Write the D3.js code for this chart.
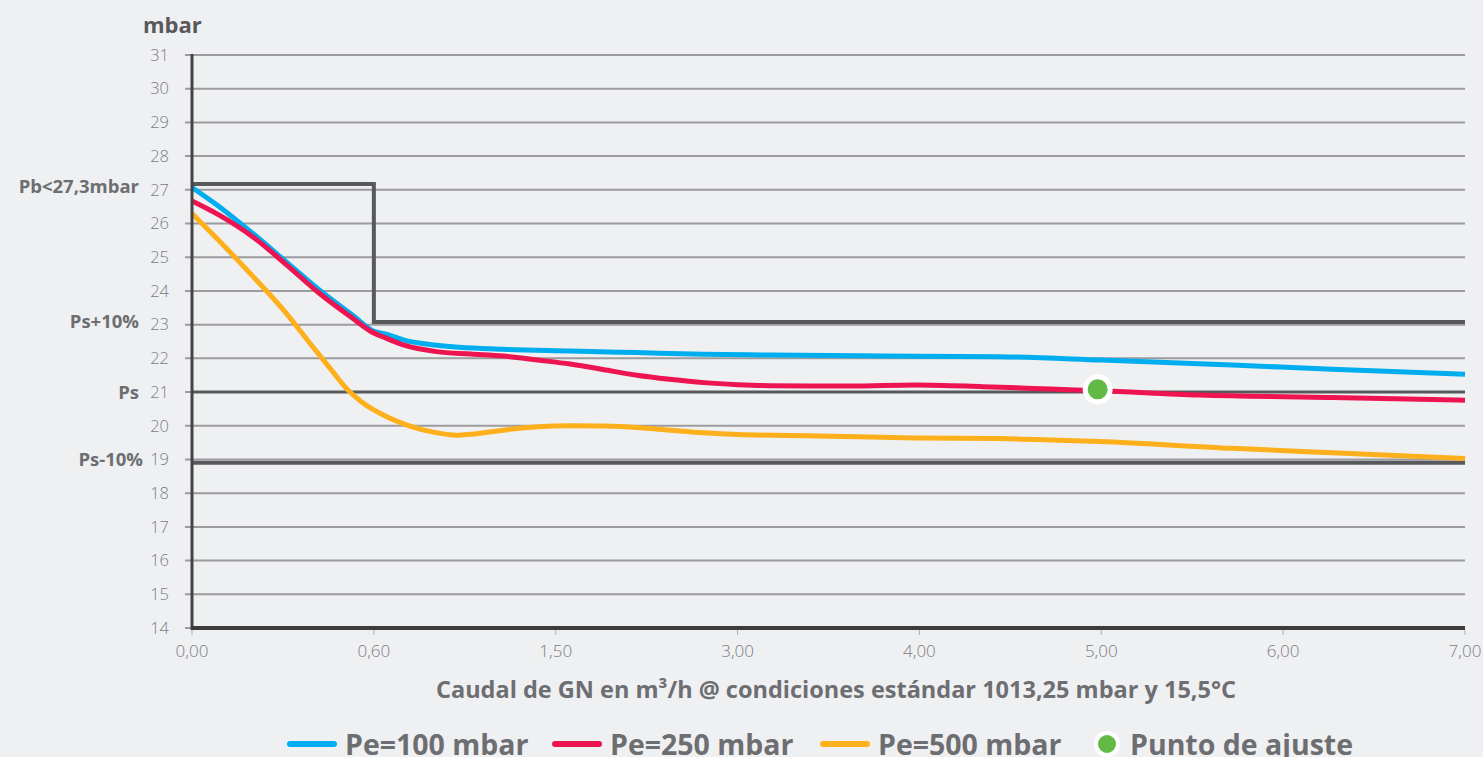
<!DOCTYPE html>
<html><head><meta charset="utf-8">
<script src="https://cdn.jsdelivr.net/npm/d3@7"></script>
<style>
html,body{margin:0;padding:0;background:#eff0f2;}
svg{display:block;font-family:"Open Sans","Noto Sans",sans-serif;}
</style></head>
<body><svg id="c" width="1483" height="757"></svg>
<script>
// ---- data ----
const xTickValues = [0, 0.6, 1.5, 3, 4, 5, 6, 7];
const xTickLabels = ["0,00","0,60","1,50","3,00","4,00","5,00","6,00","7,00"];
const yTickValues = d3.range(14, 32);
const seriesNames = ["Pe=100 mbar","Pe=250 mbar","Pe=500 mbar"];
const seriesColors = ["#00aeef","#ee1452","#fdb01c"];

const pe100 = [[0,27.07],[0.09,26.5],[0.2,25.71],[0.31,24.87],[0.42,24.03],[0.53,23.28],[0.6,22.8],[0.66,22.72],[0.75,22.54],[0.91,22.39],[1.24,22.27],[1.62,22.22],[2.17,22.17],[2.72,22.12],[3.18,22.1],[3.8,22.07],[4.44,22.05],[5.0,21.95],[5.72,21.8],[6.27,21.68],[7.0,21.53]];
const pe250 = [[0,26.67],[0.09,26.25],[0.2,25.61],[0.31,24.79],[0.42,23.93],[0.53,23.19],[0.6,22.75],[0.66,22.6],[0.75,22.39],[0.91,22.2],[1.08,22.13],[1.24,22.07],[1.41,21.95],[1.62,21.83],[1.89,21.67],[2.17,21.5],[2.44,21.38],[2.72,21.28],[3.0,21.22],[3.18,21.19],[3.62,21.18],[3.98,21.21],[4.35,21.16],[4.72,21.09],[4.99,21.04],[5.54,20.91],[6.27,20.84],[7.0,20.76]];
const pe500 = [[0,26.3],[0.087,25.51],[0.197,24.47],[0.307,23.38],[0.389,22.45],[0.455,21.71],[0.511,21.09],[0.561,20.7],[0.63,20.37],[0.779,19.99],[0.893,19.81],[1.011,19.72],[1.08,19.75],[1.24,19.87],[1.41,19.97],[1.62,20.0],[1.89,19.99],[2.17,19.95],[2.44,19.87],[2.72,19.79],[3.0,19.74],[3.44,19.7],[3.98,19.64],[4.44,19.62],[4.72,19.58],[4.99,19.53],[5.72,19.33],[6.27,19.2],[7.0,19.03]];
const seriesData = [pe100, pe250, pe500];

const adjustPoint = [4.98, 21.08];
const limitStep = [[0,27.17],[0.6,27.17],[0.6,23.08],[7,23.08]];
const psValue = 21;
const psMinusValue = 18.9;
const refLabels = ["Pb<27,3mbar","Ps+10%","Ps","Ps-10%"];
const refLabelValues = [27.1, 23.1, 21, 19];

const yTitle = "mbar";
const xTitle = "Caudal de GN en m³/h @ condiciones estándar 1013,25 mbar y 15,5°C";
const dotLegend = "Punto de ajuste";

// ---- scales ----
const svg = d3.select("#c");
const x0 = 192, x1 = 1465;
const x = d3.scaleLinear().domain(xTickValues)
  .range(xTickValues.map((d,i)=> x0 + i*(x1-x0)/(xTickValues.length-1)));
const y = d3.scaleLinear().domain([14,31]).range([628,55]);

const textCol = "#6d6e71";
const tickCol = "#7b7c7f";

// gridlines
svg.append("g").selectAll("line").data(yTickValues).join("line")
  .attr("x1", x0-7).attr("x2", x1)
  .attr("y1", d=>y(d)).attr("y2", d=>y(d))
  .attr("stroke", "#9c9c9e").attr("stroke-width", 2);

// y tick labels
svg.append("g").selectAll("text").data(yTickValues).join("text")
  .attr("x", 169).attr("y", d=>y(d)).attr("dy","0.35em")
  .attr("text-anchor","end").attr("font-size",16.5).attr("font-weight",300)
  .attr("fill",tickCol).text(d=>d);

// reference lines
svg.append("line").attr("x1",x0).attr("x2",x1).attr("y1",y(psValue)).attr("y2",y(psValue))
  .attr("stroke","#58595b").attr("stroke-width",3);
svg.append("line").attr("x1",x0).attr("x2",x1).attr("y1",y(psMinusValue)).attr("y2",y(psMinusValue))
  .attr("stroke","#58595b").attr("stroke-width",4);
svg.append("path").datum(limitStep)
  .attr("d", d3.line().x(d=>x(d[0])).y(d=>y(d[1])))
  .attr("fill","none").attr("stroke","#58595b").attr("stroke-width",4);

// reference labels
svg.append("g").selectAll("text").data(refLabels).join("text")
  .attr("x", (d,i)=> i===3 ? 143 : 139).attr("y",(d,i)=>y(refLabelValues[i])).attr("dy","0.35em")
  .attr("text-anchor","end").attr("font-size",18.5).attr("font-weight",700)
  .attr("fill",textCol).text(d=>d);

// series
const line = d3.line().x(d=>x(d[0])).y(d=>y(d[1])).curve(d3.curveMonotoneX);
svg.append("g").selectAll("path").data(seriesData).join("path")
  .attr("d", line).attr("fill","none")
  .attr("stroke",(d,i)=>seriesColors[i]).attr("stroke-width",5);

// axes
svg.append("line").attr("x1",x0).attr("x2",x0).attr("y1",y(31)-1).attr("y2",y(14)+2)
  .attr("stroke","#444").attr("stroke-width",3);
svg.append("line").attr("x1",x0-1).attr("x2",x1).attr("y1",y(14)).attr("y2",y(14))
  .attr("stroke","#3c3c3c").attr("stroke-width",4);
svg.append("g").selectAll("line").data(xTickValues).join("line")
  .attr("x1",d=>x(d)).attr("x2",d=>x(d)).attr("y1",y(14)+2).attr("y2",y(14)+7)
  .attr("stroke","#b0b0b0").attr("stroke-width",1);
svg.append("g").selectAll("text").data(xTickValues).join("text")
  .attr("x",d=>x(d)).attr("y",651).attr("dy","0.35em")
  .attr("text-anchor","middle").attr("font-size",17).attr("font-weight",300)
  .attr("fill",tickCol).text((d,i)=>xTickLabels[i]);

// titles
svg.append("text").attr("x",143).attr("y",33).attr("font-size",22).attr("font-weight",700)
  .attr("fill","#58595b").text(yTitle);
svg.append("text").attr("x",836).attr("y",698).attr("text-anchor","middle")
  .attr("font-size",23.5).attr("font-weight",700).attr("fill",textCol).text(xTitle);

// adjust point
svg.append("circle").attr("cx",x(adjustPoint[0])).attr("cy",y(adjustPoint[1]))
  .attr("r",12.5).attr("fill","#62b946").attr("stroke","#fff").attr("stroke-width",5);

// legend
const lg = svg.append("g");
const ly = 744;
const legendDashX = [290, 555, 823];
seriesNames.forEach((n,i)=>{
  lg.append("line").attr("x1",legendDashX[i]).attr("x2",legendDashX[i]+44).attr("y1",ly).attr("y2",ly)
    .attr("stroke",seriesColors[i]).attr("stroke-width",6).attr("stroke-linecap","round");
  lg.append("text").attr("x",legendDashX[i]+55).attr("y",755)
    .attr("font-size",28.5).attr("font-weight",700).attr("fill",textCol).text(n);
});
lg.append("circle").attr("cx",1107).attr("cy",ly).attr("r",11)
  .attr("fill","#62b946").attr("stroke","#fff").attr("stroke-width",4);
lg.append("text").attr("x",1130).attr("y",755)
  .attr("font-size",28.5).attr("font-weight",700).attr("fill",textCol).text(dotLegend);
</script></body></html>
